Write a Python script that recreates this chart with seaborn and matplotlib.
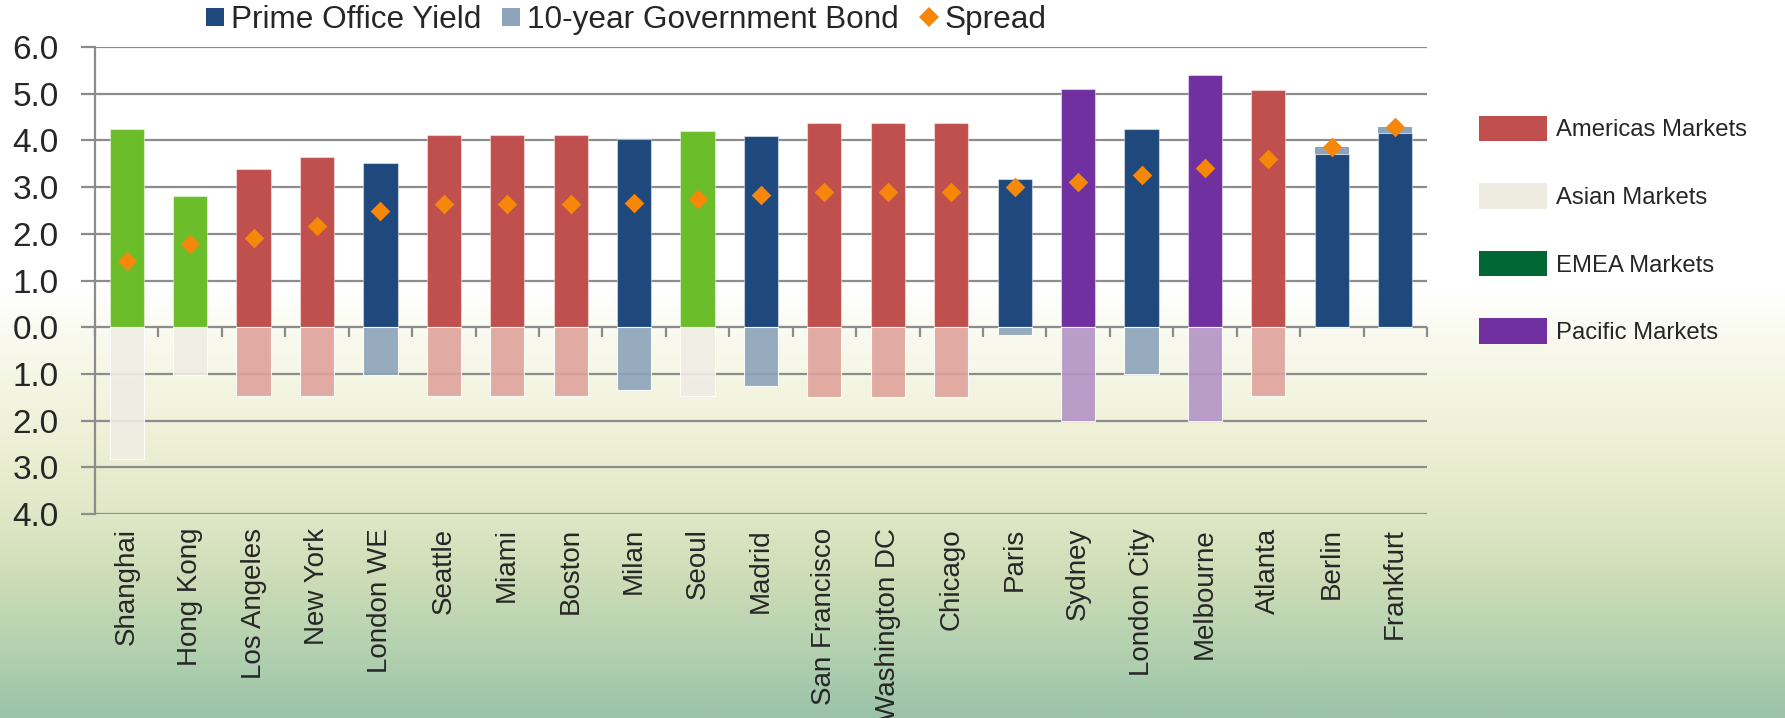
import numpy as np
import matplotlib
matplotlib.use("Agg")
import matplotlib.pyplot as plt
from matplotlib.colors import LinearSegmentedColormap
from matplotlib.lines import Line2D
from matplotlib.patches import Patch
from matplotlib.ticker import FixedLocator, FuncFormatter
import seaborn as sns

# ---- data -------------------------------------------------------------
cities = ["Shanghai", "Hong Kong", "Los Angeles", "New York", "London WE",
          "Seattle", "Miami", "Boston", "Milan", "Seoul", "Madrid",
          "San Francisco", "Washington DC", "Chicago", "Paris", "Sydney",
          "London City", "Melbourne", "Atlanta", "Berlin", "Frankfurt"]
regions = ["Asia", "Asia", "Americas", "Americas", "EMEA",
           "Americas", "Americas", "Americas", "EMEA", "Asia", "EMEA",
           "Americas", "Americas", "Americas", "EMEA", "Pacific",
           "EMEA", "Pacific", "Americas", "EMEA", "EMEA"]
prime_yield = [4.25, 2.80, 3.39, 3.64, 3.51, 4.12, 4.12, 4.12, 4.02, 4.21,
               4.09, 4.38, 4.38, 4.38, 3.18, 5.10, 4.25, 5.40, 5.09, 3.72,
               4.16]
bond_10y = [2.83, 1.02, 1.48, 1.48, 1.02, 1.48, 1.48, 1.48, 1.35, 1.47,
            1.25, 1.49, 1.49, 1.49, 0.17, 2.00, 1.00, 2.00, 1.48, -0.13,
            -0.13]
spread = [1.42, 1.78, 1.91, 2.16, 2.49, 2.64, 2.64, 2.64, 2.67, 2.74,
          2.84, 2.89, 2.89, 2.89, 3.01, 3.10, 3.25, 3.40, 3.61, 3.85, 4.29]

y_ticks = [-4, -3, -2, -1, 0, 1, 2, 3, 4, 5, 6]
series_labels = ["Prime Office Yield", "10-year Government Bond", "Spread"]
region_labels = ["Americas Markets", "Asian Markets", "EMEA Markets",
                 "Pacific Markets"]

# ---- styles -----------------------------------------------------------
yield_colors = {"Americas": "#C0504D", "Asia": "#6BBD2A",
                "EMEA": "#1F497D", "Pacific": "#7030A0"}
bond_colors = {"Americas": "#DFA39C", "Asia": "#EFEDE4",
               "EMEA": "#8DA3BA", "Pacific": "#B393C5"}
legend_colors = ["#C0504D", "#EEEBE0", "#006633", "#7030A0"]
spread_color = "#F5870A"
grid_color = "#8C8C8C"

sns.set_style("white")
plt.rcParams["font.family"] = ["Liberation Sans", "DejaVu Sans"]

fig = plt.figure(figsize=(17.85, 7.18), dpi=100)

# background wash: white on top fading into pale yellow and sea green
bg = fig.add_axes([0, 0, 1, 1], zorder=-10)
stops = [(0.0, "#FFFFFF"), (0.40, "#FFFFFF"), (0.48, "#F8F9EC"),
         (0.62, "#EDF0D5"), (0.72, "#E0E7C6"), (0.82, "#CADBB5"),
         (0.92, "#B0CFAF"), (1.0, "#9BC3A9")]
cmap = LinearSegmentedColormap.from_list("wash", stops)
bg.imshow(np.linspace(0, 1, 400).reshape(-1, 1), cmap=cmap, aspect="auto",
          extent=[0, 1, 1, 0])
bg.set_xlim(0, 1)
bg.set_ylim(1, 0)
bg.axis("off")

ax = fig.add_axes([0.0532, 0.2841, 0.7462, 0.6504])
ax.set_facecolor("none")

n = len(cities)
pos = np.arange(n)
bond_down = [-max(b, 0.0) for b in bond_10y]
bond_cap = [max(-b, 0.0) for b in bond_10y]

bar_w = 0.54
sns.barplot(x=cities, y=prime_yield, hue=regions, order=cities,
            palette=yield_colors, saturation=1, width=bar_w, dodge=False,
            legend=False, errorbar=None, edgecolor=(1, 1, 1, 0.45),
            linewidth=0.8, zorder=3, ax=ax)
sns.barplot(x=cities, y=bond_down, hue=regions, order=cities,
            palette=bond_colors, saturation=1, width=bar_w, dodge=False,
            legend=False, errorbar=None, edgecolor=(1, 1, 1, 0.3),
            linewidth=0.8, alpha=0.9, zorder=3, ax=ax)
# negative bond yields sit on top of the office yield
ax.bar(pos, bond_cap, bottom=prime_yield, width=bar_w,
       color=[bond_colors[r] for r in regions], zorder=3, linewidth=0)
sns.stripplot(x=cities, y=spread, order=cities, jitter=False, marker="D",
              size=10, color=spread_color, linewidth=0, zorder=5, ax=ax)

# ---- axes -------------------------------------------------------------
ax.set_xlim(-0.5, n - 0.5)
ax.set_ylim(-4, 6)
ax.set_xlabel("")
ax.set_ylabel("")
ax.yaxis.set_major_locator(FixedLocator(y_ticks))
ax.yaxis.set_major_formatter(FuncFormatter(lambda v, p: f"{abs(v):.1f}"))
ax.grid(axis="y", color=grid_color, linewidth=1.6, zorder=0)
ax.grid(axis="x", visible=False)
ax.set_axisbelow(True)
for side in ["top", "right", "bottom"]:
    ax.spines[side].set_visible(False)
ax.spines["left"].set_color(grid_color)
ax.spines["left"].set_linewidth(1.6)
ax.tick_params(axis="y", direction="out", length=10, width=1.6,
               color=grid_color, labelsize=24, pad=16, left=True)
ax.tick_params(axis="x", length=0, labelsize=20, pad=10)
ax.set_xticks(pos)
ax.set_xticklabels(cities, rotation=90, va="top", ha="center")

# category separators hanging off the zero line
zero_frac = (0 - (-4)) / 10
sec = ax.secondary_xaxis(zero_frac)
sec.set_xticks(np.arange(n + 1) - 0.5)
sec.tick_params(direction="out", length=7, width=1.6, color=grid_color,
                labelbottom=False, labeltop=False, bottom=True, top=False)
sec.spines["bottom"].set_visible(False)
sec.spines["top"].set_visible(False)

# ---- legends ----------------------------------------------------------
series_handles = [
    Line2D([], [], marker="s", linestyle="none", markersize=13,
           markerfacecolor="#1F497D", markeredgewidth=0),
    Line2D([], [], marker="s", linestyle="none", markersize=13,
           markerfacecolor="#8DA3BA", markeredgewidth=0),
    Line2D([], [], marker="D", linestyle="none", markersize=10,
           markerfacecolor=spread_color, markeredgewidth=0),
]
fig.legend(series_handles, series_labels, loc="center",
           bbox_to_anchor=(0.3507, 0.972), ncol=3, frameon=False,
           fontsize=22.7, handlelength=0.6, handletextpad=0.2,
           columnspacing=0.65, borderpad=0, borderaxespad=0)

region_handles = [Patch(facecolor=c, edgecolor="none") for c in legend_colors]
fig.legend(region_handles, region_labels, loc="upper left",
           bbox_to_anchor=(0.8286, 0.839), frameon=False, fontsize=17.2,
           handlelength=2.85, handleheight=1.27, handletextpad=0.38,
           labelspacing=1.75, borderpad=0, borderaxespad=0)

fig.savefig("out.png", dpi=100)
